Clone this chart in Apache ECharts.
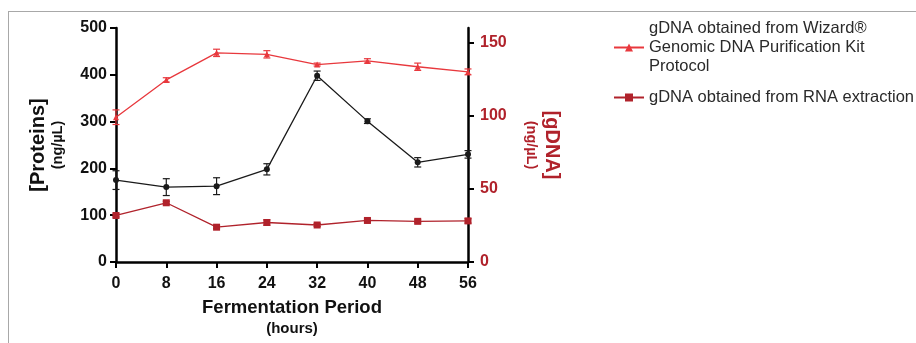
<!DOCTYPE html>
<html>
<head>
<meta charset="utf-8">
<script src="https://cdn.jsdelivr.net/npm/echarts@6/dist/echarts.min.js"></script>
<style>
  html, body { margin: 0; padding: 0; background: #fff; }
  #frame { position: absolute; left: 8px; top: 11px; width: 920px; height: 340px;
           border-top: 1px solid #a8a8a8; border-left: 1px solid #a8a8a8; }
  #chart { position: absolute; left: 0; top: 0; width: 916px; height: 343px; }
</style>
</head>
<body>
<div id="frame"></div>
<div id="chart"></div>
<script>
// fermentation time points (hours)
const hours = [0, 8, 16, 24, 32, 40, 48, 56];

// proteins, left axis (ng/µL)
const proteins = [175, 160, 162, 198, 398, 301, 213, 230];
const proteinsErr = [20, 18, 18, 12, 10, 5, 10, 8];

// gDNA from Wizard kit, right axis (ng/µL)
const wizard = [99, 124.5, 143, 142, 135, 137.5, 133.5, 130];
const wizardErr = [5, 1.5, 2.5, 2.5, 1, 1.5, 2.5, 2];

// gDNA from RNA extraction, right axis (ng/µL)
const rnaExt = [31.8, 40.5, 23.8, 27, 25.3, 28.4, 27.8, 28.1];
const rnaExtErr = [1, 1, 1, 1.8, 1, 1, 1, 1.5];

const leftTicks = [0, 100, 200, 300, 400, 500];
const rightTicks = [0, 50, 100, 150];

const nameWizard = 'gDNA obtained from Wizard®\nGenomic DNA Purification Kit\nProtocol';
const nameRna = 'gDNA obtained from RNA extraction';

const RED = '#e8383d';
const DARKRED = '#b0222b';
const BLACK = '#1a1a1a';
const FONT = '"Liberation Sans", Arial, sans-serif';

const pairs = (ys) => hours.map((h, i) => [h, ys[i]]);
const bars = (ys, err) => hours.map((h, i) => [h, ys[i] - err[i], ys[i] + err[i]]);

function errorBars(color, yAxisIndex, data) {
  return {
    type: 'custom',
    yAxisIndex: yAxisIndex,
    encode: { x: 0, y: [1, 2] },
    silent: true,
    z: 3,
    data: data,
    renderItem: (params, api) => {
      const top = api.coord([api.value(0), api.value(2)]);
      const bot = api.coord([api.value(0), api.value(1)]);
      const w = 3.5;
      const style = { stroke: color, lineWidth: 1.2 };
      return {
        type: 'group',
        children: [
          { type: 'line', shape: { x1: top[0], y1: top[1], x2: bot[0], y2: bot[1] }, style },
          { type: 'line', shape: { x1: top[0] - w, y1: top[1], x2: top[0] + w, y2: top[1] }, style },
          { type: 'line', shape: { x1: bot[0] - w, y1: bot[1], x2: bot[0] + w, y2: bot[1] }, style }
        ]
      };
    }
  };
}

const chart = echarts.init(document.getElementById('chart'), null, { renderer: 'canvas' });

const axisLine = { show: true, lineStyle: { color: '#000', width: 2.5 } };
const axisTick = { show: true, length: 6, lineStyle: { color: '#000', width: 2 } };

const option = {
  backgroundColor: 'transparent',
  animation: false,
  textStyle: { fontFamily: FONT },
  grid: { left: 116, right: 448, top: 28, bottom: 81, containLabel: false, outerBoundsMode: 'none' },
  legend: {
    data: [nameWizard, nameRna],
    orient: 'vertical',
    left: 608,
    top: 14,
    itemWidth: 30,
    itemHeight: 10,
    itemGap: 12,
    textStyle: { fontSize: 16.5, color: '#2a2a2a', lineHeight: 19, fontFamily: FONT }
  },
  xAxis: {
    type: 'value',
    min: 0,
    max: 56,
    interval: 8,
    splitLine: { show: false },
    axisLine: axisLine,
    axisTick: axisTick,
    axisLabel: { color: '#111', fontSize: 16, fontWeight: 'bold', margin: 14 },
    name: '{a|Fermentation Period}\n{b|(hours)}',
    nameLocation: 'middle',
    nameGap: 35,
    nameTextStyle: {
      rich: {
        a: { fontSize: 18.5, fontWeight: 'bold', color: '#111', lineHeight: 22, fontFamily: FONT },
        b: { fontSize: 15, fontWeight: 'bold', color: '#111', lineHeight: 20, fontFamily: FONT }
      }
    }
  },
  yAxis: [
    {
      type: 'value',
      min: 0,
      max: 500,
      interval: 100,
      splitLine: { show: false },
      axisLine: axisLine,
      axisTick: axisTick,
      axisLabel: { color: '#111', fontSize: 16, fontWeight: 'bold', margin: 9,
                   formatter: (v) => leftTicks.includes(v) ? String(v) : '' },
      name: '{a|[Proteins]}\n{b|(ng/µL)}',
      nameLocation: 'middle',
      nameRotate: 90,
      nameGap: 49,
      nameTextStyle: {
        rich: {
          a: { fontSize: 20, fontWeight: 'bold', color: '#111', lineHeight: 21, fontFamily: FONT },
          b: { fontSize: 14.5, fontWeight: 'bold', color: '#111', lineHeight: 18, fontFamily: FONT }
        }
      }
    },
    {
      type: 'value',
      min: 0,
      max: 160,
      interval: 50,
      position: 'right',
      splitLine: { show: false },
      axisLine: axisLine,
      axisTick: Object.assign({}, axisTick, { customValues: rightTicks }),
      axisLabel: { color: DARKRED, fontSize: 16, fontWeight: 'bold', margin: 12,
                   customValues: rightTicks },
      name: '{a|[gDNA]}\n{b|(ng/µL)}',
      nameLocation: 'middle',
      nameRotate: -90,
      nameGap: 54,
      nameTextStyle: {
        rich: {
          a: { fontSize: 20, fontWeight: 'bold', color: DARKRED, lineHeight: 24, fontFamily: FONT },
          b: { fontSize: 14.5, fontWeight: 'bold', color: DARKRED, lineHeight: 18, fontFamily: FONT }
        }
      }
    }
  ],
  series: [
    {
      name: 'Proteins',
      type: 'line',
      yAxisIndex: 0,
      data: pairs(proteins),
      symbol: 'circle',
      symbolSize: 6,
      lineStyle: { color: BLACK, width: 1.3 },
      itemStyle: { color: BLACK },
      z: 4
    },
    errorBars(BLACK, 0, bars(proteins, proteinsErr)),
    {
      name: nameWizard,
      type: 'line',
      yAxisIndex: 1,
      data: pairs(wizard),
      symbol: 'triangle',
      symbolSize: 6,
      lineStyle: { color: RED, width: 1.3 },
      itemStyle: { color: RED },
      z: 4
    },
    errorBars(RED, 1, bars(wizard, wizardErr)),
    {
      name: nameRna,
      type: 'line',
      yAxisIndex: 1,
      data: pairs(rnaExt),
      symbol: 'rect',
      symbolSize: 7,
      lineStyle: { color: DARKRED, width: 1.3 },
      itemStyle: { color: DARKRED },
      z: 4
    },
    errorBars(DARKRED, 1, bars(rnaExt, rnaExtErr))
  ]
};

chart.setOption(option);
window.addEventListener('resize', () => chart.resize());
</script>
</body>
</html>
